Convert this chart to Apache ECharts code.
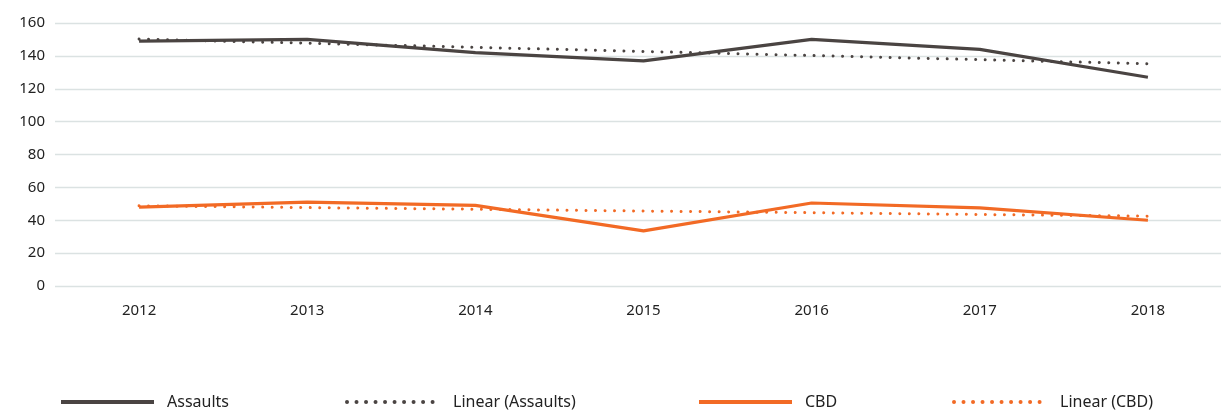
<!DOCTYPE html>
<html>
<head>
<meta charset="utf-8">
<script src="https://cdn.jsdelivr.net/npm/echarts@6/dist/echarts.min.js"></script>
<style>
html,body{margin:0;padding:0;background:#fff;overflow:hidden;}
#chart{width:1232px;height:413px;}
</style>
</head>
<body>
<div id="chart"></div>
<script>
var years = ['2012', '2013', '2014', '2015', '2016', '2017', '2018'];
var assaults = [149, 150, 142, 137, 150, 144, 127];
var linearAssaults = [150.2, 147.7, 145.2, 142.7, 140.2, 137.7, 135.2];
var cbd = [48, 51, 49, 33.5, 50.5, 47.5, 40];
var linearCbd = [48.8, 47.7, 46.7, 45.6, 44.6, 43.5, 42.5];
var yTicks = [0, 20, 40, 60, 80, 100, 120, 140, 160];
var seriesNames = ['Assaults', 'Linear (Assaults)', 'CBD', 'Linear (CBD)'];

var GRAY = '#4a4442';
var ORANGE = '#f26a25';
var FONT = 'Noto Sans';

var legendLefts = [54, 340, 692, 947];
var legends = seriesNames.map(function (n, i) {
  return {
    top: 389,
    left: legendLefts[i],
    itemWidth: 93,
    itemHeight: 8,
    itemStyle: { opacity: 0 },
    lineStyle: { width: 4 },
    textStyle: { fontFamily: FONT, fontSize: 16, color: '#222', padding: [0, 0, 0, 8] },
    data: [n]
  };
});

var chart = echarts.init(document.getElementById('chart'));
chart.setOption({
  animation: false,
  textStyle: { fontFamily: FONT },
  grid: { left: 55, right: 0, top: 23, bottom: 127 },
  legend: legends,
  xAxis: {
    type: 'category',
    data: years,
    boundaryGap: true,
    axisLine: { show: false },
    axisTick: { show: false },
    axisLabel: { margin: 17, fontSize: 15, color: '#222', fontFamily: FONT }
  },
  yAxis: {
    type: 'value',
    min: yTicks[0],
    max: yTicks[yTicks.length - 1],
    interval: 20,
    axisLine: { show: false },
    axisTick: { show: false },
    axisLabel: { margin: 10, fontSize: 15, color: '#222', fontFamily: FONT },
    splitLine: { lineStyle: { color: '#dbe2e2', width: 1.3 } }
  },
  series: [
    {
      name: seriesNames[0], type: 'line', data: assaults, symbol: 'none',
      itemStyle: { color: GRAY },
      lineStyle: { color: GRAY, width: 3.2 }, z: 3
    },
    {
      name: seriesNames[1], type: 'line', data: linearAssaults, symbol: 'none',
      itemStyle: { color: GRAY },
      lineStyle: { color: GRAY, width: 3, type: [0.01, 9.5], cap: 'round' }, z: 2
    },
    {
      name: seriesNames[2], type: 'line', data: cbd, symbol: 'none',
      itemStyle: { color: ORANGE },
      lineStyle: { color: ORANGE, width: 3.2 }, z: 3
    },
    {
      name: seriesNames[3], type: 'line', data: linearCbd, symbol: 'none',
      itemStyle: { color: ORANGE },
      lineStyle: { color: ORANGE, width: 3, type: [0.01, 9.5], cap: 'round' }, z: 2
    }
  ]
});
</script>
</body>
</html>
